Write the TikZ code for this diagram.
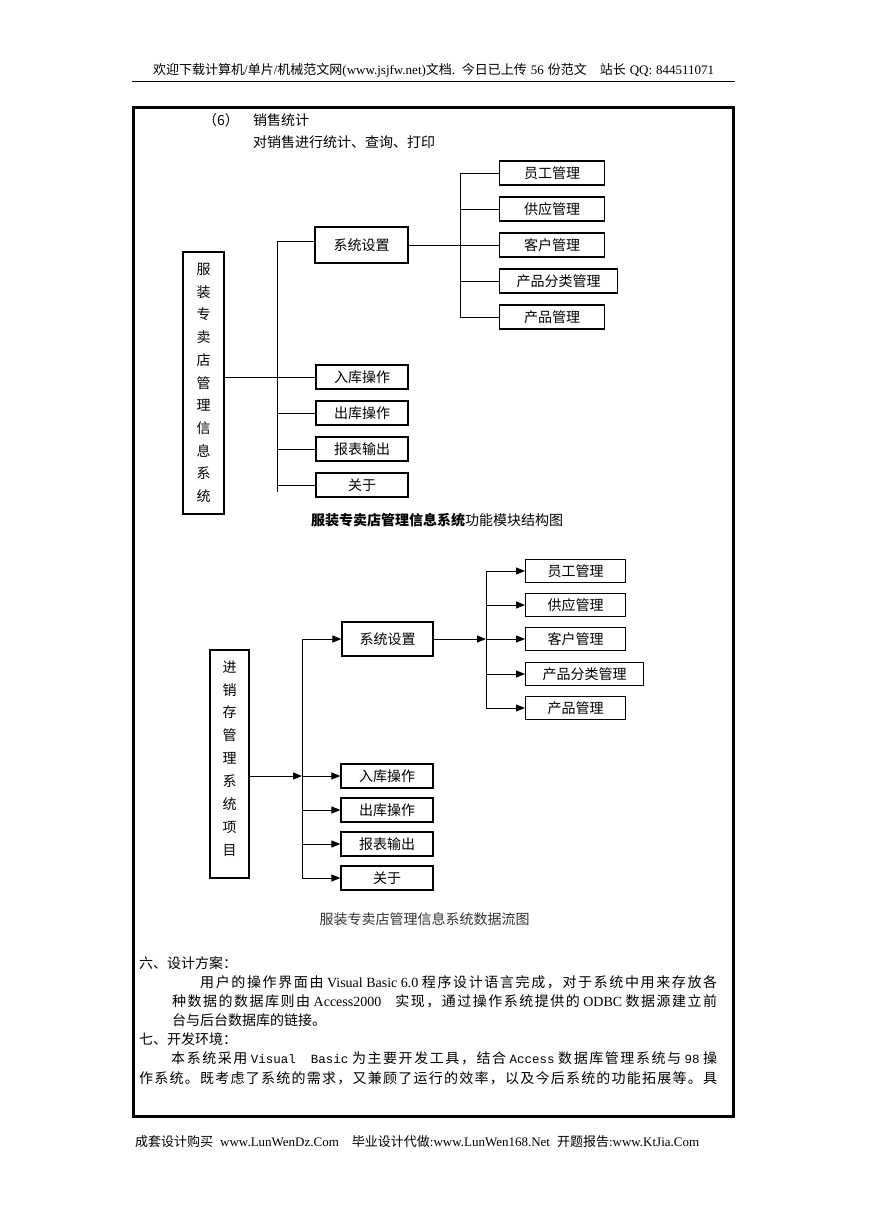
\documentclass[tikz,border=0pt]{standalone}
\usepackage{fontspec}
\setmainfont{Liberation Serif}
\newfontfamily\cjk{Noto Sans CJK SC}
\newfontfamily\cjkmono{Liberation Mono}
\usetikzlibrary{arrows.meta}
\newcommand\zhs[1]{{\cjk #1}}
% CJK run with stretchable gaps between characters (for justified lines)
\def\zhj#1{{\cjk\zhjA#1\relax}}
\def\zhjA#1{#1\zhjB}
\def\zhjB#1{\ifx#1\relax\else\hskip0pt plus 1fil #1\expandafter\zhjB\fi}
\tikzset{
  bx/.style={draw, line width=1.2pt, inner sep=0pt, font=\cjk\fontsize{14}{16}\selectfont},
  ln/.style={line width=1pt},
  ar/.style={line width=1pt, -{Triangle[length=9pt,width=7pt]}},
  txt/.style={anchor=west, inner sep=0pt, font=\fontsize{14}{16}\selectfont},
  hft/.style={anchor=west, inner sep=0pt, font=\fontsize{13}{15}\selectfont},
}
\begin{document}
\begin{tikzpicture}[x=1pt,y=-1pt]
\useasboundingbox (0,0) rectangle (869,1228);
\fill[white] (0,0) rectangle (869,1228);

% header and footer
\node[hft] (hdr) at (153,70) {\makebox[561pt][s]{\zhs{欢迎下载计算机}/\zhs{单片}/\zhs{机械范文网}(www.jsjfw.net)\zhs{文档}. \zhs{今日已上传} 56 \zhs{份范文}\quad\zhs{站长} QQ: 844511071}};
\coordinate (hl1) at (132,81);
\coordinate (hl2) at (735,81);
\draw[line width=0.9pt] (hl1) -- (hl2);
\node[hft] (ftr) at (135,1142) {\makebox[564pt][s]{\zhs{成套设计购买} www.LunWenDz.Com\quad\zhs{毕业设计代做}:www.LunWen168.Net \zhs{开题报告}:www.KtJia.Com}};

% frame
\draw[line width=3.5pt] (133.5,107.5) rectangle (733.5,1116.5);

% top text
\node[txt] (t6) at (203,120) {\zhs{（6）}};
\node[txt] (t6b) at (253,120) {\zhs{销售统计}};
\node[txt] (t6c) at (253,142) {\zhs{对销售进行统计、查询、打印}};

% ---------- top diagram ----------
\node[bx, minimum width=41pt, minimum height=262pt, align=center, font=\cjk\fontsize{14}{22.7}\selectfont] (a0) at (203.5,383) {服\\装\\专\\卖\\店\\管\\理\\信\\息\\系\\统};
\node[bx, minimum width=93pt, minimum height=36pt] (a1) at (361.5,245) {系统设置};
\node[bx, minimum width=92pt, minimum height=24pt] (a2) at (362,377) {入库操作};
\node[bx, minimum width=92pt, minimum height=24pt] (a3) at (362,413) {出库操作};
\node[bx, minimum width=92pt, minimum height=24pt] (a4) at (362,449) {报表输出};
\node[bx, minimum width=92pt, minimum height=24pt] (a5) at (362,485) {关于};
\node[bx, anchor=west, minimum width=105pt, minimum height=24pt] (b1) at (499,173) {员工管理};
\node[bx, anchor=west, minimum width=105pt, minimum height=24pt] (b2) at (499,209) {供应管理};
\node[bx, anchor=west, minimum width=105pt, minimum height=24pt] (b3) at (499,245) {客户管理};
\node[bx, anchor=west, minimum width=118pt, minimum height=24pt] (b4) at (499,281) {产品分类管理};
\node[bx, anchor=west, minimum width=105pt, minimum height=24pt] (b5) at (499,317) {产品管理};

\coordinate (v1t) at (277,241);
\coordinate (v1b) at (277,492);
\draw[ln] (v1t) -- (v1b);
\draw[ln] (v1t) -- (v1t -| a1.west);
\draw[ln] (a0.east |- a2) -- (a2.west);
\foreach \n in {a3,a4,a5} \draw[ln] (v1t |- \n) -- (\n.west);
\coordinate (v2t) at (460,173);
\coordinate (v2b) at (460,317);
\draw[ln] (v2t) -- (v2b);
\draw[ln] (a1.east) -- (b3.west);
\foreach \n in {b1,b2,b4,b5} \draw[ln] (v2t |- \n) -- (\n.west);

\node[inner sep=0pt, font=\cjk\fontsize{14}{16}\selectfont] (cap1) at (437,520) {{\bfseries 服装专卖店管理信息系统}功能模块结构图};

% ---------- bottom diagram ----------
\node[bx, minimum width=39pt, minimum height=228pt] (c0) at (229.5,764) {};
\node[inner sep=0pt, align=center, font=\cjk\fontsize{14}{22.9}\selectfont] (c0t) at (229.5,758.5) {进\\销\\存\\管\\理\\系\\统\\项\\目};
\node[bx, minimum width=91pt, minimum height=34pt] (c1) at (387.5,639) {系统设置};
\node[bx, minimum width=92pt, minimum height=24pt] (c2) at (387,776) {入库操作};
\node[bx, minimum width=92pt, minimum height=24pt] (c3) at (387,810) {出库操作};
\node[bx, minimum width=92pt, minimum height=24pt] (c4) at (387,844) {报表输出};
\node[bx, minimum width=92pt, minimum height=24pt] (c5) at (387,878) {关于};
\node[bx, anchor=west, minimum width=100pt, minimum height=23pt] (d1) at (525,571) {员工管理};
\node[bx, anchor=west, minimum width=100pt, minimum height=23pt] (d2) at (525,605) {供应管理};
\node[bx, anchor=west, minimum width=100pt, minimum height=23pt] (d3) at (525,639) {客户管理};
\node[bx, anchor=west, minimum width=118pt, minimum height=23pt] (d4) at (525,674) {产品分类管理};
\node[bx, anchor=west, minimum width=100pt, minimum height=23pt] (d5) at (525,708) {产品管理};

\coordinate (w1t) at (302,639);
\coordinate (w1b) at (302,878);
\coordinate (w1m) at (302,776);
\draw[ln] (w1t) -- (w1b);
\draw[ar] (w1t) -- (c1.west);
\draw[ar] (c0.east |- c2) -- (w1m);
\draw[ar] (w1m) -- (c2.west);
\foreach \n in {c3,c4,c5} \draw[ar] (w1t |- \n) -- (\n.west);
\coordinate (w2t) at (486,571);
\coordinate (w2b) at (486,708);
\coordinate (w2m) at (486,639);
\draw[ln] (w2t) -- (w2b);
\draw[ar] (c1.east) -- (w2m);
\draw[ar] (w2m) -- (d3.west);
\foreach \n in {d1,d2,d4,d5} \draw[ar] (w2t |- \n) -- (\n.west);

\node[inner sep=0pt, font=\cjk\fontsize{14}{16}\selectfont, text=black!80] (cap2) at (424.5,919) {服装专卖店管理信息系统数据流图};

% ---------- body text ----------
\node[txt] (p1) at (139,963) {\zhs{六、设计方案：}};
\node[txt] (p2) at (200,982) {\makebox[517pt][s]{\zhj{用户的操作界面由} Visual Basic 6.0 \zhj{程序设计语言完成，对于系统中用来存放各}}};
\node[txt] (p3) at (172,1001) {\makebox[545pt][s]{\zhj{种数据的数据库则由} Access2000\quad\zhj{实现，通过操作系统提供的} ODBC \zhj{数据源建立前}}};
\node[txt] (p4) at (172,1020) {\zhs{台与后台数据库的链接。}};
\node[txt] (p5) at (139,1039) {\zhs{七、开发环境：}};
\node[txt] (p6) at (171,1058) {\makebox[546pt][s]{\zhj{本系统采用} {\cjkmono\fontsize{12.5}{16}\selectfont Visual\ \ Basic} \zhj{为主要开发工具，结合} {\cjkmono\fontsize{12.5}{16}\selectfont Access} \zhj{数据库管理系统与} {\cjkmono\fontsize{12.5}{16}\selectfont 98} \zhs{操}}};
\node[txt] (p7) at (139,1078) {\makebox[578pt][s]{\zhj{作系统。既考虑了系统的需求，又兼顾了运行的效率，以及今后系统的功能拓展等。具}}};
\end{tikzpicture}
\end{document}
